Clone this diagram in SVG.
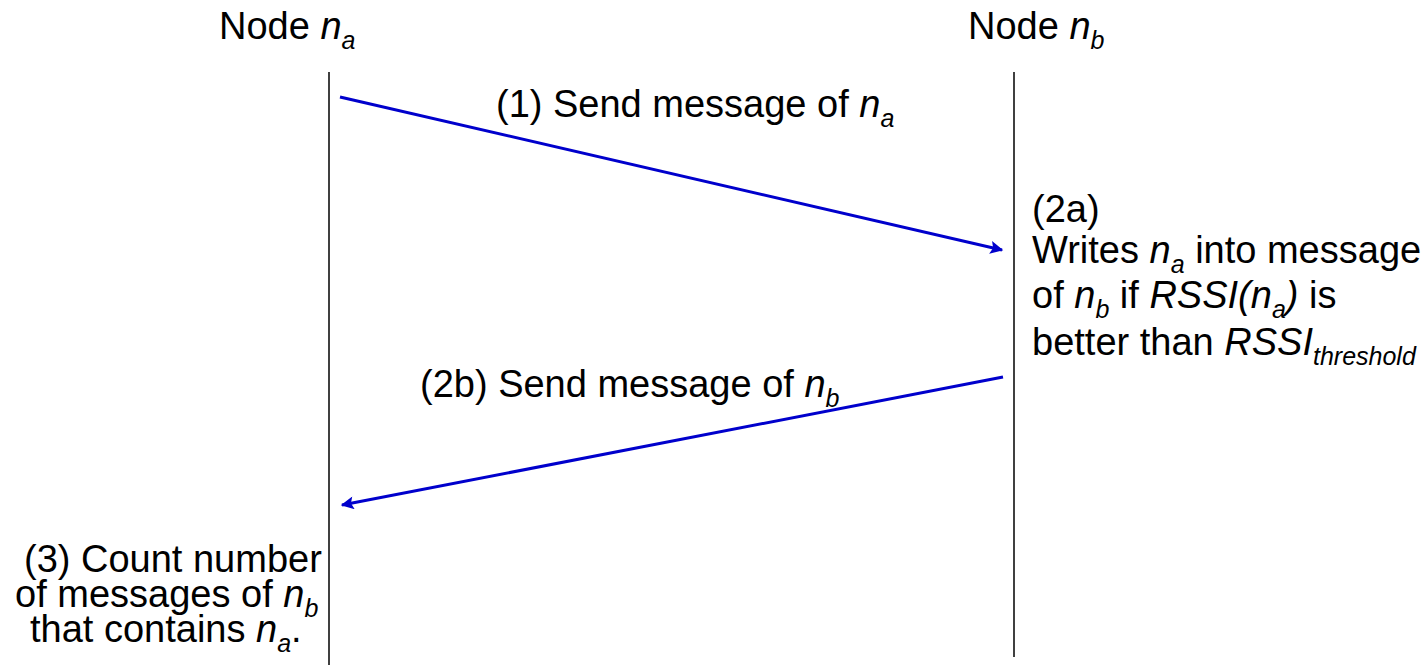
<svg xmlns="http://www.w3.org/2000/svg" width="1423" height="665" viewBox="0 0 1423 665">
  <style>
    text { font-family: "Liberation Sans", Arial, sans-serif; font-size: 38px; fill: #000; }
    .i { font-style: italic; }
    .sub { font-size: 25px; font-style: italic; }
    .life { stroke: #000; stroke-width: 1.5; fill: none; }
    .msg { stroke: #0000CC; stroke-width: 3; fill: none; marker-end: url(#head); }
  </style>
  <defs>
    <marker id="head" viewBox="0 0 10 10" refX="9" refY="5" markerUnits="userSpaceOnUse" markerWidth="17" markerHeight="13" orient="auto">
      <path d="M0,0 L10,5 L0,10 L2,5 Z" fill="#0000CC"/>
    </marker>
  </defs>

  <rect width="1423" height="665" fill="#fff"/>

  <!-- lifeline of node n_a -->
  <g id="node-a">
    <text x="219" y="39">Node <tspan class="i">n</tspan><tspan class="sub" dy="10">a</tspan></text>
    <line class="life" x1="329" y1="72" x2="329" y2="665"/>
  </g>

  <!-- lifeline of node n_b -->
  <g id="node-b">
    <text x="968" y="39">Node <tspan class="i">n</tspan><tspan class="sub" dy="10">b</tspan></text>
    <line class="life" x1="1014" y1="72" x2="1014" y2="657"/>
  </g>

  <!-- step notes -->
  <g id="step-2a">
    <text x="1032" y="222">(2a)</text>
    <text x="1032" y="263">Writes <tspan class="i">n</tspan><tspan class="sub" dy="10">a</tspan><tspan dy="-10"> into message</tspan></text>
    <text x="1032" y="308">of <tspan class="i">n</tspan><tspan class="sub" dy="10">b</tspan><tspan dy="-10"> if </tspan><tspan class="i">RSSI(n</tspan><tspan class="sub" dy="10">a</tspan><tspan class="i" dy="-10">)</tspan> is</text>
    <text x="1032" y="355">better than <tspan class="i">RSSI</tspan><tspan class="sub" dy="10">threshold</tspan></text>
  </g>

  <g id="step-3">
    <text x="24" y="572">(3) Count number</text>
    <text x="15" y="607">of messages of <tspan class="i">n</tspan><tspan class="sub" dy="10">b</tspan></text>
    <text x="30" y="642">that contains <tspan class="i">n</tspan><tspan class="sub" dy="10">a</tspan><tspan dy="-10">.</tspan></text>
  </g>

  <!-- messages -->
  <g id="connectors">
    <line class="msg" x1="340" y1="97" x2="1002" y2="250"/>
    <text x="496" y="117">(1) Send message of <tspan class="i">n</tspan><tspan class="sub" dy="10">a</tspan></text>
    <line class="msg" x1="1003" y1="377" x2="342" y2="505"/>
    <text x="420" y="397">(2b) Send message of <tspan class="i">n</tspan><tspan class="sub" dy="10">b</tspan></text>
  </g>
</svg>
